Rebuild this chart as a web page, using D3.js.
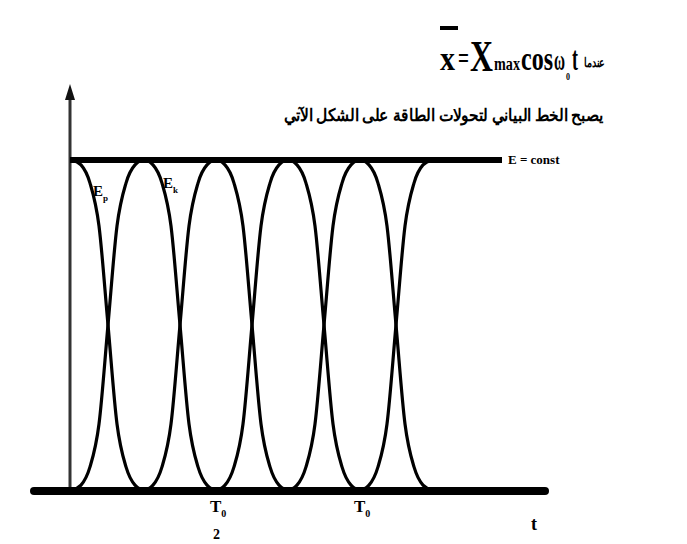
<!DOCTYPE html>
<html>
<head>
<meta charset="utf-8">
<script src="https://cdn.jsdelivr.net/npm/d3@7/dist/d3.min.js"></script>
<style>
  html, body { margin: 0; padding: 0; background: #fff; }
  svg { display: block; }
  text { font-family: "Liberation Serif", "DejaVu Serif", serif; font-weight: bold; fill: #000; }
</style>
</head>
<body>
<svg id="chart" width="687" height="544"></svg>
<script>
// Time in quarter-periods of the oscillation (T0 / 4 per unit)
const timeSteps = [
  0, 0.125, 0.25, 0.375, 0.5, 0.625, 0.75, 0.875,
  1, 1.125, 1.25, 1.375, 1.5, 1.625, 1.75, 1.875,
  2, 2.125, 2.25, 2.375, 2.5, 2.625, 2.75, 2.875,
  3, 3.125, 3.25, 3.375, 3.5, 3.625, 3.75, 3.875,
  4, 4.125, 4.25, 4.375, 4.5, 4.625, 4.75, 4.875, 5
];
// Potential energy, as a fraction of the total E
const potentialEnergy = [
  1, 0.985, 0.93, 0.8, 0.5, 0.2, 0.07, 0.015,
  0, 0.015, 0.07, 0.2, 0.5, 0.8, 0.93, 0.985,
  1, 0.985, 0.93, 0.8, 0.5, 0.2, 0.07, 0.015,
  0, 0.015, 0.07, 0.2, 0.5, 0.8, 0.93, 0.985,
  1, 0.985, 0.93, 0.8, 0.5, 0.2, 0.07, 0.015, 0
];
// Kinetic energy, as a fraction of the total E
const kineticEnergy = [
  0, 0.015, 0.07, 0.2, 0.5, 0.8, 0.93, 0.985,
  1, 0.985, 0.93, 0.8, 0.5, 0.2, 0.07, 0.015,
  0, 0.015, 0.07, 0.2, 0.5, 0.8, 0.93, 0.985,
  1, 0.985, 0.93, 0.8, 0.5, 0.2, 0.07, 0.015,
  0, 0.015, 0.07, 0.2, 0.5, 0.8, 0.93, 0.985, 1
];
// Labelled instants on the time axis
const timeTicks = [2, 4];
const timeTickLabels = [["T", "0", "2"], ["T", "0", ""]];
// Level of the total (constant) energy
const totalEnergy = [1];

const svg = d3.select("#chart");

const x = d3.scaleLinear().domain([0, 5]).range([72, 432]);
const y = d3.scaleLinear().domain([0, 1]).range([490, 160]);

// Vertical energy axis with arrow
svg.append("line")
  .attr("x1", x(0) - 2).attr("x2", x(0) - 2)
  .attr("y1", y(0)).attr("y2", 96)
  .attr("stroke", "#333").attr("stroke-width", 3);
svg.append("path")
  .attr("d", `M${x(0) - 2},84 L${x(0) - 7},100 L${x(0) + 3},100 Z`)
  .attr("fill", "#111");

// Constant total-energy line
svg.selectAll("line.total").data(totalEnergy).join("line")
  .attr("class", "total")
  .attr("x1", x(0) - 2).attr("x2", 502)
  .attr("y1", d => y(d)).attr("y2", d => y(d))
  .attr("stroke", "#000").attr("stroke-width", 6);

svg.append("text")
  .attr("x", 508).attr("y", 164)
  .attr("font-size", 13)
  .text("E = const");

// Energy curves
const line = d3.line()
  .x((d, i) => x(timeSteps[i]))
  .y(d => y(d))
  .curve(d3.curveMonotoneX);

[potentialEnergy, kineticEnergy].forEach(series => {
  svg.append("path")
    .attr("d", line(series))
    .attr("fill", "none")
    .attr("stroke", "#000")
    .attr("stroke-width", 3.2);
});

// Curve labels
function energyLabel(px, py, sub) {
  const t = svg.append("text").attr("x", px).attr("y", py).attr("font-size", 15);
  t.append("tspan").text("E");
  t.append("tspan").attr("font-size", 9).attr("dy", 5).text(sub);
}
energyLabel(93, 196, "p");
energyLabel(163, 188, "k");

// Time axis
svg.append("line")
  .attr("x1", 34).attr("x2", 545)
  .attr("y1", y(0) + 1).attr("y2", y(0) + 1)
  .attr("stroke", "#000").attr("stroke-width", 8)
  .attr("stroke-linecap", "round");

timeTicks.forEach((t, i) => {
  const px = x(t);
  const [main, sub, below] = timeTickLabels[i];
  const lab = svg.append("text").attr("x", px - 6).attr("y", 512).attr("font-size", 17);
  lab.append("tspan").text(main);
  lab.append("tspan").attr("font-size", 10).attr("dy", 5).text(sub);
  if (below) {
    svg.append("text").attr("x", px - 3).attr("y", 539).attr("font-size", 14).text(below);
  }
});

svg.append("text")
  .attr("x", 531).attr("y", 530)
  .attr("font-size", 18)
  .text("t");

// Condensed text: squeeze a piece horizontally to a given width
function condensed(txt, px, py, size, width, family) {
  const t = svg.append("text")
    .attr("font-size", size)
    .attr("font-family", family || null)
    .text(txt);
  const w = t.node().getComputedTextLength();
  t.attr("transform", `translate(${px},${py}) scale(${width / w},1)`);
  return t;
}

// Equation of motion
svg.append("line")
  .attr("x1", 440).attr("x2", 458)
  .attr("y1", 28).attr("y2", 28)
  .attr("stroke", "#000").attr("stroke-width", 4);

condensed("x", 440, 70, 34, 15);
condensed("=", 458, 68, 30, 11);
condensed("X", 470, 71, 45, 23);
condensed("max", 494, 70, 18, 26);
condensed("cos", 521, 70, 34, 32);
condensed("ω", 554, 70, 30, 11);
condensed("0", 566, 80, 11, 4);
condensed("t", 572, 70, 34, 6);
condensed("عندما", 584, 67, 13, 22, "DejaVu Sans");

condensed("يصبح الخط البياني لتحولات الطاقة على الشكل الآتي", 284, 121, 17, 328, "DejaVu Sans");
</script>
</body>
</html>
